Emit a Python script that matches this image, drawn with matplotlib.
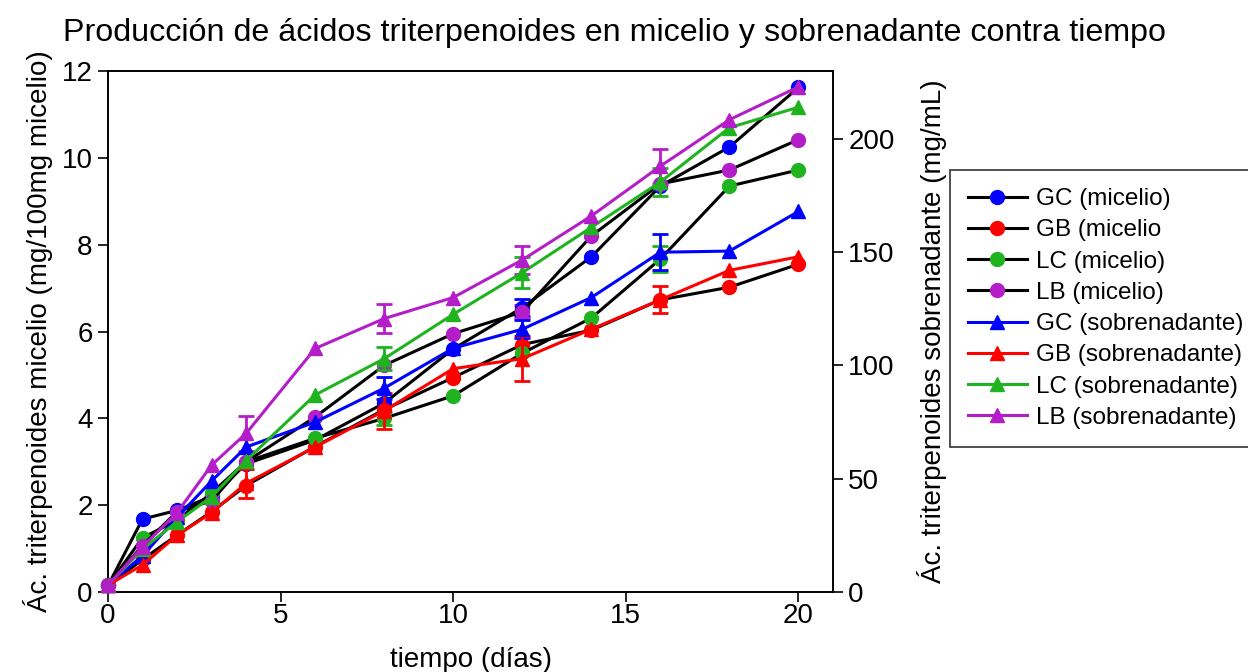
# Producción de ácidos triterpenoides - micelio vs sobrenadante
import numpy as np
import matplotlib
matplotlib.use("Agg")
import matplotlib.pyplot as plt

plt.rcParams['font.family'] = ['Liberation Sans', 'DejaVu Sans']

# tiempo (días)
dias = [0, 1, 2, 3, 4, 6, 8, 10, 12, 14, 16, 18, 20]

# micelio (mg/100mg micelio) - eje izquierdo
gc_mic = [0.15, 1.68, 1.88, 2.20, 2.95, 3.50, 4.35, 5.60, 6.55, 7.72, 9.35, 10.25, 11.62]
gb_mic = [0.15, 0.75, 1.31, 1.85, 2.45, 3.35, 4.20, 4.94, 5.70, 6.03, 6.73, 7.02, 7.55]
lc_mic = [0.15, 1.25, 1.65, 2.28, 3.00, 3.54, 4.00, 4.52, 5.50, 6.31, 7.67, 9.35, 9.72]
lb_mic = [0.15, 1.07, 1.85, 2.10, 3.00, 4.03, 5.22, 5.95, 6.45, 8.20, 9.40, 9.72, 10.42]

gc_mic_err = [0, 0, 0, 0, 0, 0, 0, 0, 0.2, 0, 0, 0, 0]
gb_mic_err = [0, 0, 0, 0, 0, 0, 0, 0, 0, 0, 0, 0, 0]
lc_mic_err = [0, 0, 0, 0, 0, 0, 0.15, 0, 0, 0, 0.3, 0, 0]
lb_mic_err = [0, 0, 0, 0, 0, 0, 0, 0, 0.15, 0, 0, 0, 0]

# sobrenadante (mg/mL) - eje derecho
gc_sob = [3, 16, 33, 49, 64, 75, 90, 107.6, 116, 130, 150, 150.5, 168]
gb_sob = [3, 12, 25, 35, 48, 64, 80, 98.6, 103, 116, 129, 142, 148]
lc_sob = [3, 19, 31, 42, 58, 87, 103, 122.6, 141, 161, 181, 205, 214]
lb_sob = [3, 20, 35, 56, 70, 107.5, 120.7, 130, 146.6, 166, 188, 208.5, 223]

gc_sob_err = [0, 0, 0, 0, 0, 0, 5, 0, 4, 0, 8, 0, 0]
gb_sob_err = [0, 0, 0, 0, 6.5, 0, 8, 0, 10, 0, 6, 0, 0]
lc_sob_err = [0, 0, 0, 0, 0, 0, 5, 0, 7, 0, 6, 0, 0]
lb_sob_err = [0, 0, 0, 0, 7.7, 0, 6.3, 0, 6, 0, 7.7, 0, 0]

azul = '#0000ff'
rojo = '#ff0000'
verde = '#1fb41f'
morado = '#b41ec8'

fig = plt.figure(figsize=(12.48, 6.72), dpi=100)
ax = fig.add_axes([108/1248, 80/672, (833-108)/1248, (592-71)/672])
ax2 = ax.twinx()

mic = [(gc_mic, gc_mic_err, azul, 'GC (micelio)'),
       (gb_mic, gb_mic_err, rojo, 'GB (micelio'),
       (lc_mic, lc_mic_err, verde, 'LC (micelio)'),
       (lb_mic, lb_mic_err, morado, 'LB (micelio)')]
sob = [(gc_sob, gc_sob_err, azul, 'GC (sobrenadante)'),
       (gb_sob, gb_sob_err, rojo, 'GB (sobrenadante)'),
       (lc_sob, lc_sob_err, verde, 'LC (sobrenadante)'),
       (lb_sob, lb_sob_err, morado, 'LB (sobrenadante)')]

handles = []
for vals, err, c, lab in mic:
    yerr = np.array(err)
    ax.errorbar(dias, vals, yerr=np.where(yerr > 0, yerr, np.nan), fmt='none',
                ecolor=c, elinewidth=2, capsize=6, capthick=2, zorder=2)
    h, = ax.plot(dias, vals, color='black', lw=2.2, marker='o', ms=10,
                 mfc=c, mec=c, label=lab, zorder=3, clip_on=False)
    handles.append(h)

for vals, err, c, lab in sob:
    yerr = np.array(err)
    ax2.errorbar(dias, vals, yerr=np.where(yerr > 0, yerr, np.nan), fmt='none',
                 ecolor=c, elinewidth=2, capsize=6, capthick=2, zorder=2)
    h, = ax2.plot(dias, vals, color=c, lw=2.2, marker='^', ms=10,
                  mfc=c, mec=c, label=lab, zorder=3, clip_on=False)
    handles.append(h)

ax.set_xlim(0, 21)
ax.set_ylim(0, 12)
ax2.set_ylim(0, 230)
ax.set_xticks([0, 5, 10, 15, 20])
ax.set_yticks([0, 2, 4, 6, 8, 10, 12])
ax2.set_yticks([0, 50, 100, 150, 200])

for a in (ax, ax2):
    a.tick_params(direction='out', length=7, width=1.2, labelsize=20, pad=4)
    for s in a.spines.values():
        s.set_linewidth(1.2)
ax.tick_params(axis='x', pad=1)

ax.set_xlabel('tiempo (días)', fontsize=20, labelpad=13)
ax.set_ylabel('Ác. triterpenoides micelio (mg/100mg micelio)', fontsize=20, labelpad=6)
ax2.set_ylabel('Ác. triterpenoides sobrenadante (mg/mL)', fontsize=20, labelpad=16)
fig.text(63/1248, 1 - 33/672, 'Producción de ácidos triterpenoides en micelio y sobrenadante contra tiempo',
         fontsize=23.2, ha='left', va='center')

leg = fig.legend(handles=handles, loc='upper left', bbox_to_anchor=(950/1248, 1 - 170/672),
                 fontsize=17.5, frameon=True, fancybox=False, edgecolor='black',
                 handlelength=2.4, borderpad=0.75, labelspacing=0.38, handletextpad=0.4,
                 borderaxespad=0)
leg.get_frame().set_linewidth(1.2)

fig.savefig('out.png', dpi=100)
